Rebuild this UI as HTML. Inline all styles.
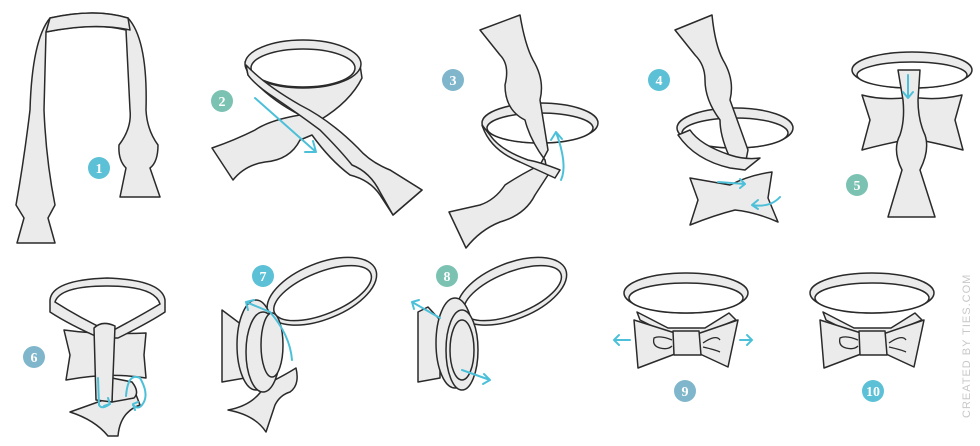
<!DOCTYPE html>
<html><head><meta charset="utf-8"><style>
html,body{margin:0;padding:0;background:#fff;}
svg{display:block;}
.t{fill:#ebebeb;stroke:#2a2a2a;stroke-width:1.5;stroke-linejoin:round;}
.w{fill:#fff;stroke:#2a2a2a;stroke-width:1.5;}
.a{fill:none;stroke:#4cc0d9;stroke-width:2;stroke-linecap:round;stroke-linejoin:round;}
.n{font-family:"Liberation Serif",serif;font-weight:bold;font-size:14px;fill:#fff;text-anchor:middle;}
</style></head><body>
<svg width="980" height="446" viewBox="0 0 980 446" xmlns="http://www.w3.org/2000/svg">
<!-- Step 1 -->
<path class="t" d="M50,18 Q95,8 128,18 Q148,40 146,110 Q147,130 158,145 Q158,162 150,168 L160,197 L120,197 L126,168 Q118,160 119,145 Q132,128 130,110 L126,30 Q95,22 46,32 L44,110 Q46,160 55,205 L48,218 L55,243 L17,243 L24,218 L16,205 Q24,160 30,110 Q32,40 50,18 Z"/>
<path class="t" d="M50,18 Q95,8 128,18 L130,30 Q95,22 46,32 Z"/>
<!-- Step 2 -->
<path class="t" d="M245,62 L248,75 Q270,100 300,115 Q270,120 255,130 Q235,140 212,148 L233,180 Q245,165 265,162 Q290,160 300,140 L312,135 Q330,160 350,175 Q370,180 380,195 L393,215 L422,190 L390,170 Q370,165 355,150 Q335,135 320,120 Q350,102 362,78 L360,65 Z"/>
<ellipse class="t" cx="303" cy="64" rx="58" ry="24"/>
<ellipse class="w" cx="303" cy="68" rx="52" ry="19"/>
<path class="t" d="M248,75 Q255,85 275,98 Q300,115 320,130 Q340,150 352,165 Q370,172 380,192 L393,215 L422,190 L390,170 Q370,162 358,148 Q330,120 300,105 Q265,85 246,65 Z"/>
<!-- Step 3 -->
<ellipse class="t" cx="540" cy="123" rx="58" ry="20"/>
<ellipse class="w" cx="540" cy="128" rx="53" ry="15"/>
<path class="t" d="M480,30 L520,15 Q525,45 533,60 Q545,80 540,100 L548,150 L540,165 Q520,175 505,185 Q495,200 480,205 L449,212 L466,248 Q480,230 500,222 Q525,215 535,195 L548,175 L545,160 Q530,140 525,120 Q505,110 505,85 Q510,65 500,55 Z"/>
<path class="t" d="M482,125 Q490,150 520,162 L555,178 L560,170 Q540,162 528,160 Q500,150 490,135 Z"/>
<!-- Step 4 -->
<ellipse class="t" cx="735" cy="128" rx="58" ry="20"/>
<ellipse class="w" cx="735" cy="133" rx="53" ry="15"/>
<path class="t" d="M675,30 L712,15 Q715,45 723,60 Q735,80 730,100 L748,150 L745,165 L735,168 Q720,140 720,120 Q705,100 705,80 Q705,65 695,55 Z"/>
<path class="t" d="M678,135 Q695,160 730,168 L745,170 L760,158 Q745,160 730,155 Q700,145 690,130 Z"/>
<path class="t" d="M690,178 L730,185 Q750,175 772,172 L768,198 L778,222 Q755,212 735,210 Q715,215 690,225 L698,200 Z"/>
<!-- Step 5 -->
<ellipse class="t" cx="912" cy="70" rx="60" ry="18"/>
<ellipse class="w" cx="912" cy="75" rx="55" ry="13"/>
<path class="t" d="M862,95 Q880,100 905,98 L920,98 Q940,100 962,95 L955,120 L963,150 Q945,145 920,140 L905,140 Q880,145 862,150 L870,120 Z"/>
<path class="t" d="M898,70 L920,70 L918,100 Q918,120 925,135 Q930,150 920,170 L935,217 L888,217 L902,170 Q892,150 900,135 Q905,120 903,100 Z"/>
<!-- Step 6 -->
<path class="t" d="M64,330 Q100,335 146,333 L144,355 L146,378 Q110,372 66,380 L70,355 Z"/>
<path class="t" d="M50,300 Q52,280 107,278 Q162,280 165,300 L165,312 Q150,322 118,338 L100,338 Q70,325 50,312 Z"/>
<path class="w" d="M55,302 Q60,286 107,286 Q155,286 160,304 Q140,316 110,332 Q80,318 55,302 Z"/>
<path class="t" d="M70,412 L112,397 L135,392 L140,405 Q120,412 118,436 L108,436 Q95,420 70,412 Z"/>
<path class="t" d="M112,378 L132,382 Q140,392 134,398 L112,402 Z"/>
<path class="t" d="M94,328 Q102,320 115,326 L112,402 L96,400 Z"/>
<!-- Step 7 -->
<g transform="rotate(-22 320 292)">
<ellipse class="t" cx="322" cy="292" rx="58" ry="28"/>
<ellipse class="w" cx="322" cy="294" rx="52" ry="21"/>
</g>
<path class="t" d="M222,310 L242,325 L245,378 L222,382 Z"/>
<path class="t" d="M228,410 Q255,405 265,385 Q285,375 296,368 Q300,385 290,392 Q280,395 275,405 L266,432 Q255,415 228,410 Z"/>
<ellipse class="t" cx="256" cy="345" rx="19" ry="45"/>
<ellipse class="t" cx="263" cy="352" rx="17" ry="40"/>
<ellipse class="t" cx="272" cy="345" rx="11" ry="32"/>
<!-- Step 8 -->
<g transform="rotate(-22 510 292)">
<ellipse class="t" cx="512" cy="292" rx="58" ry="28"/>
<ellipse class="w" cx="512" cy="294" rx="52" ry="21"/>
</g>
<path class="t" d="M418,312 L428,307 L440,320 L440,378 L418,382 Z"/>
<ellipse class="t" cx="455" cy="343" rx="19" ry="45"/>
<ellipse class="t" cx="462" cy="350" rx="16" ry="40"/>
<ellipse class="t" cx="462" cy="350" rx="12" ry="30"/>
<!-- Step 9 -->
<ellipse class="t" cx="686" cy="293" rx="62" ry="20"/>
<ellipse class="w" cx="686" cy="298" rx="57" ry="15"/>
<path class="t" d="M637,312 L668,328 L705,328 L729,313 L736,320 L700,335 L670,335 L640,320 Z"/>
<path class="t" d="M634,320 L675,333 L700,333 L738,320 L728,367 L700,354 L675,354 L638,368 Z"/>
<path class="t" d="M673,331 L699,331 L701,355 L674,355 Z"/>
<path fill="none" stroke="#2a2a2a" stroke-width="1.3" d="M672,340 Q660,335 654,338 Q652,346 660,348 Q668,350 672,346 M703,343 Q716,334 720,340 M703,347 Q716,350 720,352"/>
<!-- Step 10 -->
<ellipse class="t" cx="872" cy="293" rx="62" ry="20"/>
<ellipse class="w" cx="872" cy="298" rx="57" ry="15"/>
<path class="t" d="M823,312 L854,328 L891,328 L915,313 L922,320 L886,335 L856,335 L826,320 Z"/>
<path class="t" d="M820,320 L861,333 L886,333 L924,320 L914,367 L886,354 L861,354 L824,368 Z"/>
<path class="t" d="M859,331 L885,331 L887,355 L860,355 Z"/>
<path fill="none" stroke="#2a2a2a" stroke-width="1.3" d="M858,340 Q846,335 840,338 Q838,346 846,348 Q854,350 858,346 M889,343 Q902,334 906,340 M889,347 Q902,350 906,352"/>
<!-- Arrows -->
<path class="a" d="M255,98 L316,152 M305,152 L316,152 L313,141"/>
<path class="a" d="M561,180 Q568,165 556,132 M551,140 L556,132 L562,139"/>
<path class="a" d="M718,182 L745,184 M740,179 L745,184 L740,188"/>
<path class="a" d="M780,197 Q770,208 752,205 M758,200 L752,205 L758,209"/>
<path class="a" d="M908,75 L908,98 M903,92 L908,98 L913,92"/>
<path class="a" d="M98,378 L99,405 Q102,410 110,404 M104,406 L110,404 L108,398"/>
<path class="a" d="M126,396 Q128,372 140,378 Q150,395 142,405 Q138,410 133,405 M135,410 L133,404 L138,402"/>
<path class="a" d="M292,360 Q290,335 270,312 L246,302 M248,310 L246,302 L254,300"/>
<path class="a" d="M440,318 L412,302 M414,309 L412,302 L419,300"/>
<path class="a" d="M462,370 L490,380 M484,374 L490,380 L483,384"/>
<path class="a" d="M630,340 L614,340 M619,335 L614,340 L619,345"/>
<path class="a" d="M740,340 L752,340 M747,335 L752,340 L747,345"/>
<!-- Numbers -->
<circle cx="99" cy="168" r="11" fill="#5cc0d6"/><text class="n" x="99" y="173">1</text>
<circle cx="222" cy="101" r="11" fill="#7cc2b3"/><text class="n" x="222" y="106">2</text>
<circle cx="453" cy="80" r="11" fill="#7fb6cc"/><text class="n" x="453" y="85">3</text>
<circle cx="659" cy="80" r="11" fill="#5cc0d6"/><text class="n" x="659" y="85">4</text>
<circle cx="857" cy="185" r="11" fill="#7cc2b3"/><text class="n" x="857" y="190">5</text>
<circle cx="34" cy="357" r="11" fill="#7fb6cc"/><text class="n" x="34" y="362">6</text>
<circle cx="263" cy="276" r="11" fill="#5cc0d6"/><text class="n" x="263" y="281">7</text>
<circle cx="447" cy="276" r="11" fill="#7cc2b3"/><text class="n" x="447" y="281">8</text>
<circle cx="685" cy="391" r="11" fill="#7fb6cc"/><text class="n" x="685" y="396">9</text>
<circle cx="873" cy="391" r="11" fill="#5cc0d6"/><text class="n" x="873" y="396">10</text>
<text x="0" y="0" transform="translate(970,418) rotate(-90)" font-family="Liberation Sans,sans-serif" font-size="11" letter-spacing="1" fill="#c8c8c8">CREATED BY TIES.COM</text>
</svg>
</body></html>
